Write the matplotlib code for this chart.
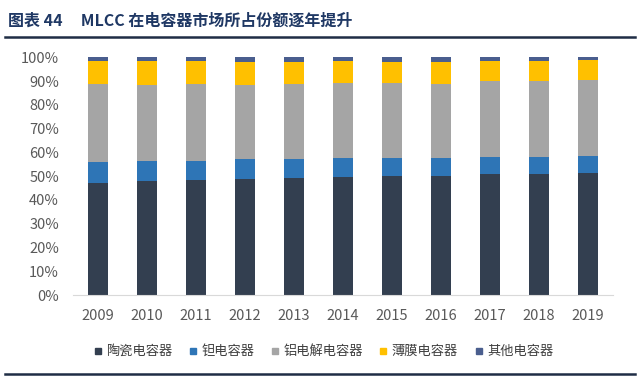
import matplotlib
matplotlib.use("Agg")
import matplotlib.pyplot as plt
from matplotlib.lines import Line2D
import numpy as np

plt.rcParams['font.family'] = ['Noto Sans CJK SC', 'DejaVu Sans']

years = ['2009', '2010', '2011', '2012', '2013', '2014', '2015', '2016', '2017', '2018', '2019']
ceramic = [47.3, 48.0, 48.4, 48.7, 49.1, 49.6, 50.1, 50.1, 50.8, 50.9, 51.5]
tantalum = [8.7, 8.5, 8.1, 8.4, 8.0, 7.9, 7.4, 7.4, 7.3, 7.2, 7.1]
aluminum = [32.6, 31.9, 32.4, 31.1, 31.8, 31.8, 31.6, 31.3, 31.8, 31.8, 31.9]
film = [9.9, 10.1, 9.6, 9.8, 9.1, 9.2, 8.9, 9.2, 8.6, 8.6, 8.4]
other = [1.5, 1.5, 1.5, 2.0, 2.0, 1.5, 2.0, 2.0, 1.5, 1.5, 1.1]

series = [
    ('陶瓷电容器', ceramic, '#333F50'),
    ('钽电容器', tantalum, '#2E75B6'),
    ('铝电解电容器', aluminum, '#A5A5A5'),
    ('薄膜电容器', film, '#FFC000'),
    ('其他电容器', other, '#4A5E8E'),
]

fig = plt.figure(figsize=(6.4, 3.79), dpi=100)
ax = fig.add_axes([0.114, 0.2216, 0.844, 0.6274])

x = np.arange(len(years))
bottom = np.zeros(len(years))
handles = []
for name, vals, col in series:
    v = np.array(vals) / 100.0
    ax.bar(x, v, width=0.41, bottom=bottom, color=col, edgecolor='none')
    bottom += v
    handles.append(Line2D([], [], marker='s', linestyle='none', markersize=5,
                          markerfacecolor=col, markeredgecolor=col, label=name))

ax.set_xlim(-0.51, len(years) - 1 + 0.51)
ax.set_ylim(0, 1.0)
ax.set_yticks(np.arange(0, 1.01, 0.1))
ax.set_yticklabels([f'{int(round(t*100))}%' for t in np.arange(0, 1.01, 0.1)])
ax.set_xticks(x)
ax.set_xticklabels(years)
for s in ['top', 'right', 'left']:
    ax.spines[s].set_visible(False)
ax.spines['bottom'].set_color('#D9D9D9')
ax.tick_params(axis='both', length=0, labelsize=10.5, colors='#595959')
ax.tick_params(axis='x', pad=10)
ax.tick_params(axis='y', pad=10)

fig.legend(handles=handles, loc='center', bbox_to_anchor=(0.505, 0.072), ncol=5,
           frameon=False, fontsize=9.5, handlelength=0.7, handletextpad=0.3,
           columnspacing=1.2, labelcolor='#404040')

fig.text(0.012, 0.945, '图表 44     MLCC 在电容器市场所占份额逐年提升', fontsize=11.5,
         fontweight='bold', color='#1F3864', va='center', ha='left',
         family=['Noto Sans CJK SC', 'DejaVu Sans'])
fig.add_artist(Line2D([0.008, 0.992], [0.902, 0.902], transform=fig.transFigure,
                      color='#1F2D45', linewidth=1.8))
fig.add_artist(Line2D([0.008, 0.992], [0.013, 0.013], transform=fig.transFigure,
                      color='#1F2D45', linewidth=1.8))

fig.savefig('out.png', dpi=100)
